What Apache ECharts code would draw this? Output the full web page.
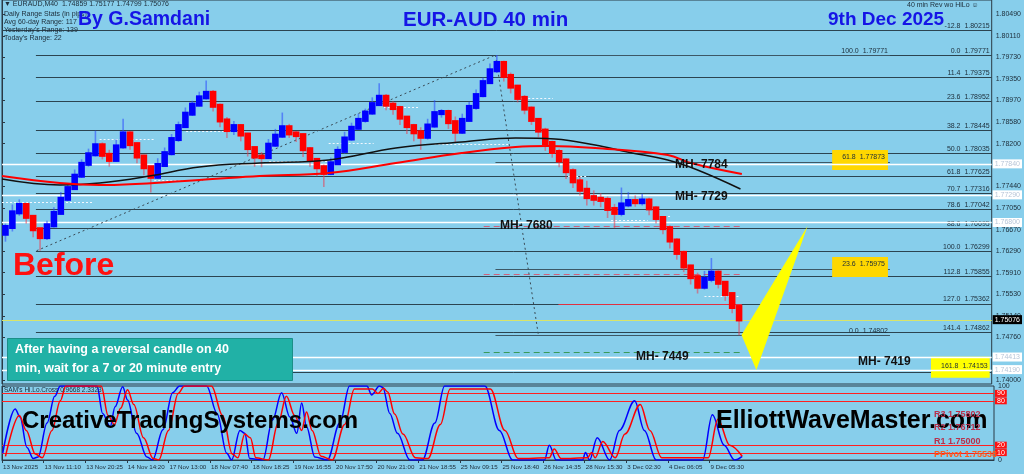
<!DOCTYPE html>
<html><head><meta charset="utf-8">
<script src="https://cdn.jsdelivr.net/npm/echarts@6/dist/echarts.min.js"></script>
<style>html,body{margin:0;padding:0;background:#87CEEB;}#c{width:1024px;height:474px;}</style>
</head><body><div id="c"></div>
<script>
// ---------------- DATA ----------------
const timeLabels = ["13 Nov 2025","13 Nov 11:10","13 Nov 20:25","14 Nov 14:20","17 Nov 13:00","18 Nov 07:40","18 Nov 18:25","19 Nov 16:55","20 Nov 17:50","20 Nov 21:00","21 Nov 18:55","25 Nov 09:15","25 Nov 18:40","26 Nov 14:35","28 Nov 15:30","3 Dec 02:30","4 Dec 06:05","9 Dec 05:30"];
const BARS_PER_LABEL = 6;
const NSLOT = 143;
const PMIN = 1.739345, PMAX = 1.80747;
const priceTicks = [1.80490,1.80110,1.79730,1.79350,1.78970,1.78580,1.78200,1.77440,1.77050,1.76670,1.76290,1.75910,1.75530,1.75140,1.74760,1.74000];

const firstOpen = 1.7660;
const closes = [
1.7672,1.7698,1.7711,1.7690,1.7668,1.7654,1.7675,1.7697,1.7722,1.7741,
1.7763,1.7784,1.7801,1.7817,1.7800,1.7791,1.7815,1.7838,1.7819,1.7797,
1.7778,1.7761,1.7782,1.7803,1.7828,1.7851,1.7873,1.7889,1.7902,1.7910,
1.7887,1.7861,1.7844,1.7851,1.7836,1.7812,1.7797,1.7796,1.7818,1.7834,
1.7849,1.7838,1.7835,1.7810,1.7791,1.7778,1.7768,1.7785,1.7807,1.7829,
1.7848,1.7862,1.7875,1.7890,1.7903,1.7889,1.7883,1.7866,1.7851,1.7840,
1.7832,1.7852,1.7874,1.7876,1.7858,1.7841,1.7862,1.7885,1.7906,1.7929,
1.7950,1.7963,1.7940,1.7921,1.7901,1.7882,1.7862,1.7843,1.7821,1.7805,
1.7790,1.7771,1.7753,1.7738,1.7725,1.7722,1.7720,1.7704,1.7697,1.7712,
1.7718,1.7716,1.7719,1.7705,1.7688,1.7670,1.7648,1.7626,1.7602,1.7583,
1.7566,1.7580,1.7591,1.7573,1.7553,1.7530,1.7508];
// wick lengths in pips
const upWick = [
6,14,10,4,3,2,8,10,12,9, 11,8,10,26,5,9,12,26,4,3, 3,2,12,10,9,8,11,7,10,22,
5,4,6,9,3,3,2,8,10,12, 26,6,4,3,4,3,5,10,8,12, 9,11,7,12,24,5,6,4,3,4,
9,12,23,5,4,10,11,9,10,8, 12,14,4,6,3,5,4,3,5,4, 6,4,5,8,16,12,10,6,9,30,
16,10,12,5,4,3,5,4,4,3, 8,14,26,4,3,3,2];
const downWick = [
14,8,6,12,14,24,5,4,3,4, 3,4,5,4,8,12,3,4,10,12, 14,28,4,3,4,5,3,4,3,4,
10,12,14,9,12,15,18,18,3,4, 4,8,12,14,12,16,25,4,3,5, 4,3,5,4,3,10,12,13,14,16,
23,5,4,8,12,20,4,3,5,4, 3,5,10,12,8,10,9,12,14,10, 12,14,12,10,15,12,13,16,27,6,
5,8,6,12,10,11,14,12,10,13, 12,5,6,10,12,11,28];

const maBlack = [[0,1.77571],[8.35,1.77465],[14.1,1.77500],[21.3,1.77624],[28.5,1.77784],[37.2,1.77855],[47.2,1.77908],[56.9,1.78121],[66.4,1.78228],[74.2,1.78299],[79.9,1.78281],[85.7,1.78174],[90.4,1.78050],[96.2,1.77908],[100.5,1.77731],[106.7,1.77394]];
const maRed = [[0,1.77624],[8.35,1.77500],[14.1,1.77465],[28.5,1.77554],[37.2,1.77624],[47.2,1.77678],[56.9,1.77855],[66.4,1.78032],[74.2,1.78139],[78.9,1.78157],[85.7,1.78121],[96.2,1.77997],[99.5,1.77855],[106.9,1.77660]];

const fibMainRatios = ["-12.8","0.0","11.4","23.6","38.2","50.0","61.8","70.7","78.6","88.6","100.0","112.8","127.0","141.4","161.8"];
const fibMainPrices = [1.80215,1.79771,1.79375,1.78952,1.78445,1.78035,1.77625,1.77316,1.77042,1.76695,1.76299,1.75855,1.75362,1.74862,1.74153];
const fibSecRatios = ["100.0","61.8","23.6","0.0"];
const fibSecPrices = [1.79771,1.77873,1.75975,1.74802];
const whiteLevels = [1.77840,1.77290,1.76800,1.74413,1.74190];
const lastPrice = 1.75076;
const mhDashedPink = [1.7673,1.75886];
const mhDashedGreen = [1.74497];
const redSolidLevel = [1.75362];
const anchorLine1 = [[5.0,1.76299],[71.3,1.79771]];
const anchorLine2 = [[71.3,1.79771],[77.5,1.74802]];
const triangle = [[106.85,1.74804],[116.4,1.76737],[109.0,1.74183]];
// short white dotted pivot marks: [fromBar, toBar, price]
const pivotMarks = [[0,13.1,1.77163],[14.1,22.0,1.78281],[22.0,26.4,1.77553],[26.6,32.8,1.78428],[38.6,47.2,1.77891],[47.2,53.7,1.78210],[55.2,60.2,1.78849],[61.3,73.2,1.78192],[74.3,79.6,1.79008],[81.8,84.7,1.77624],[88.0,93.3,1.76844],[94.5,96.8,1.76915],[101.5,106.6,1.75496]];

const oscBlue = [[0.1,9],[1.9,69],[2.6,58],[3.6,17],[4.5,2],[5.2,4],[6.5,50],[7.6,86],[8.4,100],[13.7,100],[14.5,63],[15.6,45],[16.3,72],[17.4,99],[18.1,81],[19.4,36],[20.9,4],[21.7,0],[23.2,41],[24.6,91],[25.6,100],[29.5,100],[31,63],[32.4,9],[33.1,0],[34.3,40],[35,36],[35.7,2],[37.6,0],[39,54],[40.3,91],[41.5,58],[42.5,36],[43.2,77],[43.9,45],[45.1,4],[46.9,0],[48.7,50],[50.1,100],[52.6,100],[53.3,88],[54.4,100],[54.9,98],[55.9,63],[57,36],[58.8,0],[60.6,0],[62.4,50],[63.8,100],[69.6,100],[71.7,40],[73.6,0],[78.2,0],[78.9,20],[79.9,0],[83.7,0],[84.1,10],[84.7,0],[85.8,30],[87.6,0],[89,40],[91.2,80],[92.6,40],[94.3,0],[101,0],[102.4,61],[104.1,20],[105.6,0],[106.7,5]];
const oscRed = [[0.5,5],[2.5,60],[3.5,40],[4.8,8],[5.8,3],[7.2,40],[8.4,80],[9.2,100],[14.3,100],[15.3,60],[16.2,48],[17.1,70],[18.1,95],[19,75],[20.4,30],[21.8,2],[22.6,0],[24,40],[25.4,90],[26.3,100],[30.2,100],[31.8,60],[33.2,8],[34,3],[35,35],[35.8,30],[36.6,3],[38.4,0],[39.8,50],[41,86],[42.2,60],[43.2,40],[43.9,65],[44.7,40],[46,5],[47.6,0],[49.4,48],[50.8,96],[53.4,96],[54.2,90],[55,97],[55.6,92],[56.6,62],[57.8,35],[59.6,3],[61.4,2],[63.2,48],[64.6,96],[70.4,96],[72.5,40],[74.4,2],[78.9,3],[79.6,15],[80.6,2],[84.4,3],[85,10],[85.5,3],[86.6,25],[88.4,3],[89.8,35],[92,75],[93.4,40],[95.1,3],[101.8,3],[103.2,55],[104.9,20],[106.7,5]];
const oscLevels = [90,80,20,10];
const pivotTexts = [["R3 1.75802","#b8304c"],["R2 1.76712","#b8304c"],["R1 1.75000","#b8304c"],["PPivot 1.75538","#ff5a1a"]];

// ---------------- BUILD ----------------
const candles = closes.map((c,i)=>{
  const o = i===0 ? firstOpen : closes[i-1];
  return [i+0.5, o, c, Math.min(o,c)-downWick[i]/10000, Math.max(o,c)+upWick[i]/10000];
});
const FONT = 'Liberation Sans';

function hlines(items, opt){
  return {type:'custom', xAxisIndex:opt.g||0, yAxisIndex:opt.g||0, z:opt.z||2, silent:true, clip:false,
    data: items, encode:{x:[0,1], y:2},
    renderItem(params, api){
      const p = api.value(2);
      const a = api.coord([api.value(0), p]), b = api.coord([api.value(1), p]);
      const ch = [{type:'line', shape:{x1:a[0],y1:Math.round(a[1])+0.5,x2:b[0],y2:Math.round(b[1])+0.5},
        style:{stroke:opt.color, lineWidth:opt.width||1, lineDash:opt.dash||null, opacity:opt.opacity||1}}];
      if (opt.label){ const t = opt.label(params.dataIndex, a, b, api); if (t) ch.push(t); }
      return {type:'group', children:ch};
    }};
}

const series = [];
// fib main
series.push(hlines(fibMainPrices.map((p,i)=>[i===0?0:4.9, NSLOT, p]), {color:'#2b4450', width:1, z:2,
  label:(i,a,b)=>({type:'text', x:b[0]-2, y:a[1]+(i===14?6:-0.5), style:{text:fibMainRatios[i]+'  '+fibMainPrices[i].toFixed(5), align:'right', verticalAlign:'bottom', font:'7px '+FONT, fill:'#1c2c38',
    backgroundColor: i===14?'#ffff00':null, padding: i===14?[6,2,8,10]:0}})}));
// fib secondary
series.push(hlines(fibSecPrices.map(p=>[71.3,128.3,p]), {color:'#3d5866', width:1, z:2,
  label:(i,a,b)=>({type:'text', x:b[0]-2, y:a[1]+((i===1||i===2)?8:-0.5), style:{text:fibSecRatios[i]+'  '+fibSecPrices[i].toFixed(5), align:'right', verticalAlign:'bottom', font:'7px '+FONT, fill:'#1c2c38',
    backgroundColor:(i===1||i===2)?'#ffd700':null, padding:(i===1||i===2)?[4,3,9,10]:0}})}));
// white levels
series.push(hlines(whiteLevels.map(p=>[0,NSLOT,p]), {color:'#ffffff', width:1.5, z:3,
  label:(i,a,b)=>({type:'text', x:b[0]+1, y:a[1], style:{text:whiteLevels[i].toFixed(5), align:'left', verticalAlign:'middle', font:'7px '+FONT, fill:'#b8c6d8', backgroundColor:'#ffffff', padding:[1,2,1,2]}})}));
// current price
series.push(hlines([[0,NSLOT,lastPrice]], {color:'#d8e46a', width:1, z:3,
  label:(i,a,b)=>({type:'text', x:b[0]+1, y:a[1], style:{text:lastPrice.toFixed(5), align:'left', verticalAlign:'middle', font:'7px '+FONT, fill:'#ffffff', backgroundColor:'#000000', padding:[1,2,1,2]}})}));
// MH dashed
series.push(hlines(mhDashedPink.map(p=>[69.6,106.9,p]), {color:'#d0607a', width:1, dash:[6,4], z:3}));
series.push(hlines(mhDashedGreen.map(p=>[69.6,106.9,p]), {color:'#3a9a5a', width:1, dash:[6,4], z:3}));
series.push(hlines(redSolidLevel.map(p=>[80.4,106.9,p]), {color:'#e03040', width:1, z:3}));
// white dotted pivot marks
series.push(hlines(pivotMarks, {color:'#f4f8ff', width:1, dash:[2,2], z:4}));
// anchor dotted lines
[anchorLine1, anchorLine2].forEach(l=>series.push({type:'line', data:l, symbol:'none', silent:true, z:3,
  lineStyle:{color:'#3a4a55', width:1, type:[2,3]}}));
// candles
series.push({type:'custom', z:5, silent:true, data:candles, encode:{x:0, y:[1,2,3,4]},
  renderItem(params, api){
    const x = api.value(0), o=api.value(1), c=api.value(2), l=api.value(3), h=api.value(4);
    const pH=api.coord([x,h]), pL=api.coord([x,l]), pO=api.coord([x,o]), pC=api.coord([x,c]);
    const w = api.size([1,0])[0]*0.95;
    const up = c>=o;
    return {type:'group', children:[
      {type:'line', shape:{x1:pH[0],y1:pH[1],x2:pL[0],y2:pL[1]}, style:{stroke: up?'rgba(40,70,255,0.55)':'rgba(235,60,80,0.55)', lineWidth:1.6}},
      {type:'rect', shape:{x:pO[0]-w/2, y:Math.min(pO[1],pC[1])-2, width:w, height:Math.abs(pO[1]-pC[1])+4}, style:{fill: up?'#0000ff':'#ff0000'}}
    ]};
  }});
// MAs
series.push({type:'line', data:maBlack, symbol:'none', smooth:0.4, silent:true, z:6, lineStyle:{color:'#111111', width:1.5}});
series.push({type:'line', data:maRed, symbol:'none', smooth:0.4, silent:true, z:6, lineStyle:{color:'#ff0000', width:2}});
// triangle
series.push({type:'custom', z:7, silent:true, data:[0], renderItem(params, api){
  return {type:'polygon', shape:{points: triangle.map(pt=>api.coord(pt))}, style:{fill:'#ffff00'}};
}});
// oscillator levels
series.push(hlines(oscLevels.map(v=>[0,NSLOT,v]), {g:1, color:'#ff2020', width:1, z:3,
  label:(i,a,b)=>({type:'text', x:b[0]+1, y:a[1], style:{text:String(oscLevels[i]), align:'left', verticalAlign:'middle', font:'7px '+FONT, fill:'#ffffff', backgroundColor:'#ff1010', padding:[0,2,0,2]}})}));
series.push({type:'line', xAxisIndex:1, yAxisIndex:1, data:oscBlue, symbol:'none', smooth:0.35, smoothMonotone:'x', silent:true, z:5, lineStyle:{color:'#0000ff', width:1.5}});
series.push({type:'line', xAxisIndex:1, yAxisIndex:1, data:oscRed, symbol:'none', smooth:0.35, smoothMonotone:'x', silent:true, z:6, lineStyle:{color:'#ff0000', width:1.5}});

const timeTicks = timeLabels.map((_,k)=>k*BARS_PER_LABEL);

const txt = (left, top, text, font, fill, extra)=>Object.assign({type:'text', left, top, z:50, style:{text, font, fill}}, extra||{});
const graphic = [
  txt(4,1,'\u25BC EURAUD,M40  1.74859 1.75177 1.74799 1.75076','7px '+FONT,'#1c2c38'),
  txt(4,11,'Daily Range Stats (in pips)','7px '+FONT,'#1c2c38'),
  txt(4,19,'Avg 60-day Range: 117','7px '+FONT,'#1c2c38'),
  txt(4,27,'Yesterday\'s Range: 139','7px '+FONT,'#1c2c38'),
  txt(4,35,'Today\'s Range: 22','7px '+FONT,'#1c2c38'),
  txt(78,10,'By G.Samdani','bold 19.5px '+FONT,'#1515e6'),
  txt(403,10,'EUR-AUD 40 min','bold 20.5px '+FONT,'#1515e6'),
  txt(828,10,'9th Dec 2025','bold 19px '+FONT,'#1515e6'),
  txt(907,2,'40 min Rev wo HiLo \u263A','7px '+FONT,'#1c2c38'),
  txt(13,250,'Before','bold 32px '+FONT,'#ff1010'),
  {type:'rect', left:7, top:338, z:40, shape:{width:285, height:42}, style:{fill:'#21b1a6', stroke:'#1a8f88'}},
  txt(15,343,'After having a reversal candle on 40','bold 12.5px '+FONT,'#ffffff'),
  txt(15,362,'min, wait for a 7 or 20 minute entry','bold 12.5px '+FONT,'#ffffff'),
  txt(675,159,'MH- 7784','bold 12px '+FONT,'#111111'),
  txt(675,191,'MH- 7729','bold 12px '+FONT,'#111111'),
  txt(500,220,'MH- 7680','bold 12px '+FONT,'#111111'),
  txt(636,351,'MH- 7449','bold 12px '+FONT,'#111111'),
  txt(858,356,'MH- 7419','bold 12px '+FONT,'#111111'),
  txt(4,387,'SAM\'s Hi.Lo.Cross 0.9668 2.3323','6.5px '+FONT,'#1c2c38'),
  txt(22,409,'CreativeTradingSystems.com','bold 24px '+FONT,'#000000'),
  txt(716,409,'ElliottWaveMaster.com','bold 25px '+FONT,'#000000')
];
pivotTexts.forEach((t,i)=>graphic.push(txt(934,410+i*13.5,t[0],'bold 9px '+FONT,t[1])));

const option = {
  backgroundColor:'#87CEEB',
  animation:false,
  grid:[
    {left:2, right:30, top:0, height:384, show:true, borderColor:'#2a3a46', borderWidth:1, backgroundColor:'transparent'},
    {left:2, right:30, top:386, height:74, show:true, borderColor:'#2a3a46', borderWidth:1, backgroundColor:'transparent'}
  ],
  xAxis:[
    {gridIndex:0, type:'value', min:0, max:NSLOT, show:false},
    {gridIndex:1, type:'value', min:0, max:NSLOT, splitLine:{show:false},
      axisLine:{show:true, lineStyle:{color:'#2a3a46'}},
      axisTick:{show:true, customValues:timeTicks, length:3, lineStyle:{color:'#2a3a46'}},
      axisLabel:{customValues:timeTicks, formatter:(v)=>timeLabels[Math.round(v/BARS_PER_LABEL)], align:'left', padding:[0,0,0,1], fontSize:6.2, fontFamily:FONT, color:'#1c2c38', margin:4}}
  ],
  yAxis:[
    {gridIndex:0, type:'value', position:'right', min:PMIN, max:PMAX, splitLine:{show:false},
      axisLine:{show:true, lineStyle:{color:'#2a3a46'}},
      axisTick:{show:true, customValues:priceTicks, length:3, lineStyle:{color:'#2a3a46'}},
      axisLabel:{customValues:priceTicks, formatter:(v)=>v.toFixed(5), fontSize:7, fontFamily:FONT, color:'#1c2c38', margin:4}},
    {gridIndex:1, type:'value', position:'right', min:0, max:100, splitLine:{show:false},
      axisLine:{show:true, lineStyle:{color:'#2a3a46'}},
      axisTick:{show:true, customValues:[100,0], length:3},
      axisLabel:{customValues:[100,0], fontSize:7, fontFamily:FONT, color:'#1c2c38', margin:4}}
  ],
  graphic,
  series
};
const chart = echarts.init(document.getElementById('c'), null, {renderer:'canvas'});
chart.setOption(option);
</script></body></html>
